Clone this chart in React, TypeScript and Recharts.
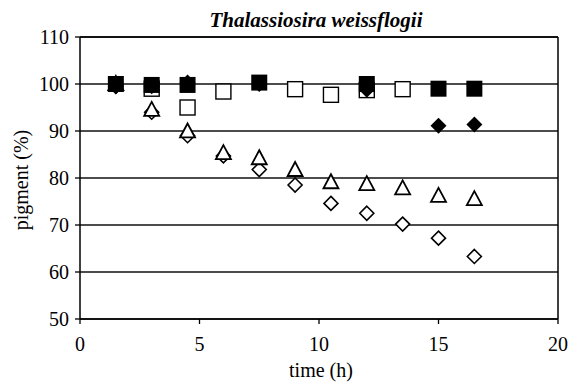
import { ScatterChart, Scatter, XAxis, YAxis, CartesianGrid, ReferenceLine } from "recharts";

const xTicks = [0, 5, 10, 15, 20];
const yTicks = [50, 60, 70, 80, 90, 100, 110];

const filledSquareT = [1.5, 3, 4.5, 7.5, 12, 15, 16.5];
const filledSquareV = [100, 99.8, 99.8, 100.3, 100, 99, 99];

const openSquareT = [3, 4.5, 6, 9, 10.5, 12, 13.5];
const openSquareV = [99, 95, 98.4, 98.9, 97.7, 98.7, 98.9];

const filledDiamondT = [1.5, 3, 4.5, 7.5, 12, 15, 16.5];
const filledDiamondV = [99.5, 99.5, 100.3, 100, 98.8, 91.1, 91.4];

const openDiamondT = [1.5, 3, 4.5, 6, 7.5, 9, 10.5, 12, 13.5, 15, 16.5];
const openDiamondV = [99.5, 94, 89, 84.7, 81.8, 78.5, 74.6, 72.5, 70.2, 67.2, 63.3];

const openTriangleT = [1.5, 3, 4.5, 6, 7.5, 9, 10.5, 12, 13.5, 15, 16.5];
const openTriangleV = [100, 94.5, 89.9, 85.3, 84.2, 81.7, 79.1, 78.7, 77.8, 76.2, 75.5];

const toPoints = (t: number[], v: number[]) => t.map((x, i) => ({ t: x, v: v[i] }));

const FONT = "'Liberation Serif', 'Times New Roman', serif";
const txt = { fontFamily: FONT, fill: "#000" };

const FilledSquare = (p: any) => (
  <rect x={p.cx - 8} y={p.cy - 8} width={16} height={16} fill="#000" />
);
const OpenSquare = (p: any) => (
  <rect x={p.cx - 7.5} y={p.cy - 7.5} width={15} height={15} fill="#fff" stroke="#000" strokeWidth={1.4} />
);
const FilledDiamond = (p: any) => (
  <path d={`M${p.cx},${p.cy - 8}L${p.cx + 8},${p.cy}L${p.cx},${p.cy + 8}L${p.cx - 8},${p.cy}Z`} fill="#000" />
);
const OpenDiamond = (p: any) => (
  <path
    d={`M${p.cx},${p.cy - 7}L${p.cx + 7},${p.cy}L${p.cx},${p.cy + 7}L${p.cx - 7},${p.cy}Z`}
    fill="#fff"
    stroke="#000"
    strokeWidth={1.6}
  />
);
const OpenTriangle = (p: any) => (
  <path
    d={`M${p.cx},${p.cy - 8}L${p.cx + 7.5},${p.cy + 6}L${p.cx - 7.5},${p.cy + 6}Z`}
    fill="#fff"
    stroke="#000"
    strokeWidth={1.8}
  />
);

const XTick = (p: any) => (
  <text x={p.x} y={p.y + 25} textAnchor="middle" fontSize={20} style={txt}>
    {p.payload.value}
  </text>
);
const YTick = (p: any) => (
  <text x={p.x - 4} y={p.y + 7} textAnchor="end" fontSize={20} style={txt}>
    {p.payload.value}
  </text>
);

export default function App() {
  return (
    <div style={{ position: "absolute", left: 0, top: 0, background: "#fff", fontFamily: FONT }}>
      <ScatterChart width={571} height={384} margin={{ top: 37, right: 13, bottom: 5, left: 0 }}>
        <CartesianGrid horizontal vertical={false} stroke="#111" strokeWidth={1.3} />
        <XAxis
          type="number"
          dataKey="t"
          domain={[0, 20]}
          ticks={xTicks}
          tick={<XTick />}
          tickSize={5}
          height={60}
          axisLine={{ stroke: "#000", strokeWidth: 1.5 }}
          tickLine={{ stroke: "#000", strokeWidth: 1.3 }}
          label={{
            content: () => (
              <text x={321} y={377} textAnchor="middle" fontSize={20} style={txt}>
                time (h)
              </text>
            ),
          }}
        />
        <YAxis
          type="number"
          dataKey="v"
          domain={[50, 110]}
          ticks={yTicks}
          tick={<YTick />}
          tickSize={5}
          width={80}
          axisLine={{ stroke: "#000", strokeWidth: 1.5 }}
          tickLine={{ stroke: "#000", strokeWidth: 1.3 }}
          label={{
            content: () => (
              <text
                x={28}
                y={180}
                textAnchor="middle"
                fontSize={20}
                style={txt}
                transform="rotate(-90 28 180)"
              >
                pigment (%)
              </text>
            ),
          }}
        />
        <ReferenceLine x={20} stroke="#000" strokeWidth={1.5} />
        <ReferenceLine
          y={110}
          stroke="#000"
          strokeWidth={1.5}
          label={{
            content: () => (
              <text
                x={316}
                y={27}
                textAnchor="middle"
                fontSize={21}
                fontWeight="bold"
                fontStyle="italic"
                style={txt}
              >
                Thalassiosira weissflogii
              </text>
            ),
          }}
        />
        <Scatter data={toPoints(openDiamondT, openDiamondV)} shape={OpenDiamond} isAnimationActive={false} />
        <Scatter data={toPoints(openTriangleT, openTriangleV)} shape={OpenTriangle} isAnimationActive={false} />
        <Scatter data={toPoints(openSquareT, openSquareV)} shape={OpenSquare} isAnimationActive={false} />
        <Scatter data={toPoints(filledDiamondT, filledDiamondV)} shape={FilledDiamond} isAnimationActive={false} />
        <Scatter data={toPoints(filledSquareT, filledSquareV)} shape={FilledSquare} isAnimationActive={false} />
      </ScatterChart>
    </div>
  );
}
